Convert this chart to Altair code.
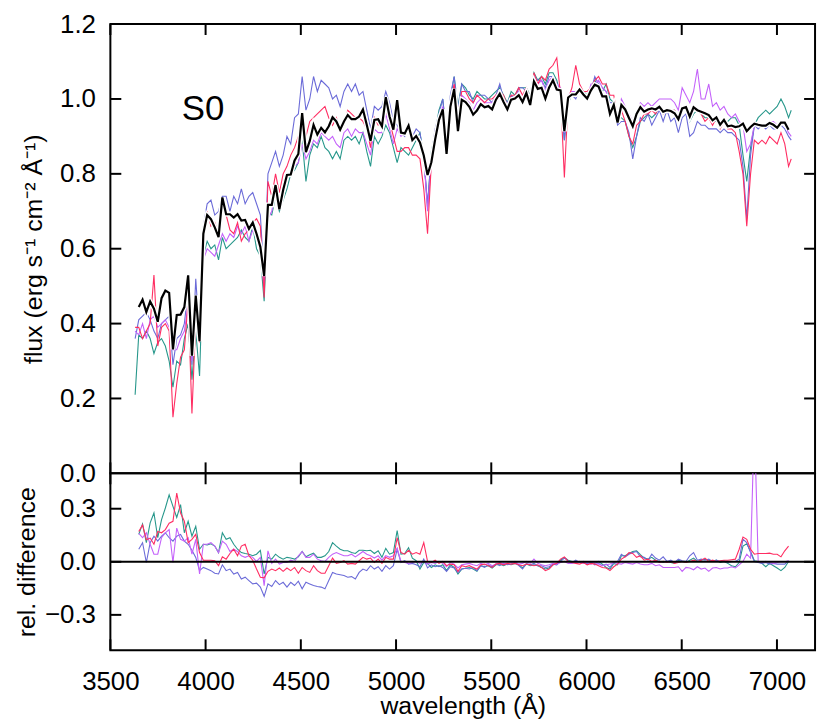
import altair as alt
import numpy as np
import pandas as pd

# ---------------- data ----------------
# wavelength grid of the binned model (black) and of the difference curves
wl = np.round(np.linspace(3649, 7061, 172), 1)
# the four observed spectra start a little before and end a little after it
wl_obs = np.concatenate([[3630.0], wl, [7075.0]])

black = [0.444,0.464,0.431,0.459,0.440,0.405,0.468,0.488,0.482,0.331,
         0.423,0.424,0.444,0.529,0.314,0.475,0.353,0.640,0.690,0.679,
         0.657,0.631,0.737,0.692,0.692,0.683,0.692,0.675,0.677,0.653,
         0.670,0.640,0.605,0.527,0.717,0.717,0.770,0.705,0.757,0.797,
         0.798,0.836,0.853,0.962,0.858,0.888,0.931,0.905,0.923,0.911,
         0.927,0.951,0.940,0.918,0.940,0.957,0.946,0.946,0.953,0.972,
         0.931,0.888,0.944,0.946,0.927,1.005,0.953,0.918,0.997,0.910,
         0.908,0.929,0.890,0.901,0.884,0.849,0.797,0.831,0.892,0.944,
         0.972,0.853,0.979,1.027,0.914,0.998,0.992,0.979,0.958,0.969,
         0.986,0.978,0.981,0.972,0.998,1.014,0.992,0.972,0.998,1.001,
         1.010,0.992,1.016,0.984,1.047,1.027,1.030,1.001,1.031,1.050,
         1.025,1.023,0.914,1.004,1.012,1.012,1.025,1.012,1.001,1.023,
         1.038,1.033,1.007,1.007,0.960,0.984,0.937,0.984,0.972,0.949,
         0.927,0.960,0.978,0.966,0.972,0.975,0.972,0.979,0.966,0.970,
         0.968,0.962,0.946,0.975,0.978,0.953,0.978,0.970,0.966,0.962,
         0.957,0.943,0.951,0.931,0.944,0.927,0.929,0.925,0.927,0.934,
         0.914,0.925,0.934,0.931,0.929,0.929,0.936,0.931,0.923,0.937,
         0.937,0.918]

teal = [0.21,
        0.37,0.36,0.38,0.36,0.32,0.35,0.36,0.34,0.30,0.23,
        0.30,0.29,0.36,0.40,0.25,0.38,0.26,0.58,0.62,0.60,
        0.61,0.57,0.63,0.60,0.61,0.62,0.63,0.65,0.63,0.62,
        0.66,0.60,0.58,0.46,0.70,0.69,0.74,0.70,0.73,0.76,
        0.80,0.81,0.83,0.89,0.78,0.85,0.88,0.87,0.90,0.87,
        0.86,0.84,0.86,0.84,0.89,0.90,0.89,0.90,0.88,0.91,
        0.86,0.82,0.90,0.88,0.90,0.93,0.91,0.87,0.83,0.87,
        0.86,0.85,0.87,0.89,0.91,0.85,0.71,0.86,0.91,0.97,
        1.00,0.90,1.00,1.06,0.98,1.04,1.03,1.01,1.00,1.02,
        1.01,1.00,1.00,1.01,1.02,1.03,1.01,0.99,1.02,1.01,
        1.03,1.03,1.03,1.01,1.07,1.05,1.06,1.04,1.07,1.07,
        1.05,1.01,0.89,0.99,1.01,1.01,1.03,1.02,1.01,1.03,
        1.05,1.03,1.02,1.04,1.00,0.99,0.95,0.95,0.94,0.90,
        0.87,0.90,0.94,0.95,0.96,0.95,0.96,0.98,0.97,0.97,
        0.97,0.97,0.94,0.97,0.98,0.94,0.96,0.97,0.96,0.95,
        0.95,0.94,0.94,0.93,0.94,0.94,0.95,0.95,0.93,0.85,
        0.78,0.87,0.93,0.95,0.96,0.97,0.96,0.97,0.98,1.00,
        0.98,0.95,
        0.97]

red = [0.39,
       0.39,0.36,0.38,0.40,0.53,0.34,0.39,0.40,0.38,0.15,
       0.24,0.31,0.33,0.46,0.16,0.41,0.35,0.63,0.70,0.66,
       0.67,0.64,0.72,0.69,0.65,0.64,0.67,0.62,0.64,0.65,
       0.67,0.68,0.66,0.47,0.78,0.74,0.80,0.75,0.80,0.82,
       0.85,0.87,0.90,0.96,0.90,0.94,0.95,0.96,0.97,0.98,
       0.95,0.93,0.95,0.92,0.93,0.97,0.96,0.95,0.95,0.94,
       0.92,0.87,0.95,0.93,0.94,0.97,0.94,0.90,0.86,0.86,
       0.87,0.87,0.85,0.85,0.84,0.76,0.64,0.83,0.88,0.95,
       0.97,0.87,0.99,1.04,0.96,1.02,1.02,1.00,0.99,1.01,
       1.00,0.99,1.00,1.00,1.01,1.02,1.01,0.98,1.01,1.01,
       1.03,1.01,1.03,1.00,1.07,1.04,1.06,1.05,1.08,1.09,
       1.11,1.01,0.79,1.00,1.03,1.09,1.04,1.02,1.02,1.03,
       1.05,1.06,1.04,1.04,1.01,1.01,0.95,0.97,0.94,0.90,
       0.88,0.93,0.94,0.96,0.96,0.97,0.96,0.98,0.96,0.97,
       0.97,0.97,0.95,0.97,0.98,0.95,0.97,0.97,0.96,0.94,
       0.95,0.93,0.95,0.92,0.94,0.92,0.92,0.91,0.86,0.80,
       0.66,0.80,0.89,0.88,0.89,0.88,0.90,0.89,0.88,0.91,
       0.88,0.82,
       0.84]

slate = [0.36,
         0.41,0.42,0.43,0.41,0.38,0.36,0.40,0.41,0.42,0.29,
         0.36,0.37,0.40,0.49,0.29,0.52,0.37,0.66,0.72,0.73,
         0.69,0.70,0.74,0.74,0.70,0.74,0.72,0.76,0.72,0.74,
         0.75,0.72,0.69,0.52,0.80,0.83,0.86,0.82,0.85,0.90,
         0.88,0.95,0.96,1.06,0.97,1.00,1.06,1.02,1.05,1.04,
         1.03,1.00,1.01,0.98,1.02,1.04,1.02,1.04,1.01,1.02,
         0.97,0.92,0.98,0.97,0.98,1.02,0.99,0.94,0.93,0.91,
         0.90,0.94,0.90,0.92,0.91,0.84,0.72,0.85,0.92,0.96,
         1.00,0.90,1.01,1.06,0.97,1.04,1.02,1.02,0.99,1.01,
         1.01,1.01,1.00,0.99,1.01,1.04,1.00,0.99,1.01,1.00,
         1.03,1.03,1.02,1.00,1.06,1.05,1.05,1.03,1.06,1.06,
         1.04,1.02,0.89,1.00,1.01,1.00,1.03,1.01,1.01,1.02,
         1.06,1.04,1.03,1.02,0.99,0.99,0.93,0.94,0.94,0.91,
         0.84,0.90,0.95,0.94,0.96,0.93,0.95,0.97,0.94,0.97,
         0.94,0.95,0.91,0.95,0.96,0.90,0.91,0.94,0.93,0.93,
         0.92,0.92,0.92,0.91,0.92,0.91,0.91,0.90,0.89,0.82,
         0.68,0.85,0.93,0.92,0.93,0.92,0.93,0.92,0.92,0.93,
         0.92,0.90,
         0.89]

violet = [0.38,
          0.37,0.40,0.36,0.41,0.42,0.39,0.40,0.41,0.39,0.33,
          0.33,0.36,0.38,0.45,0.30,0.44,0.38,0.57,0.60,0.59,
          0.58,0.61,0.64,0.62,0.64,0.63,0.66,0.64,0.66,0.62,
          0.65,0.63,0.59,0.50,0.68,0.70,0.76,0.72,0.75,0.79,
          0.80,0.82,0.83,0.88,0.84,0.86,0.89,0.88,0.91,0.90,
          0.89,0.90,0.88,0.87,0.91,0.92,0.90,0.92,0.91,0.91,
          0.88,0.85,0.92,0.91,0.91,0.96,0.92,0.88,0.92,0.90,
          0.91,0.93,0.89,0.90,0.89,0.85,0.70,0.83,0.90,0.94,
          0.98,0.88,0.98,1.04,0.95,1.01,1.00,0.99,0.97,0.99,
          1.00,0.99,0.99,0.99,1.01,1.02,1.00,0.98,1.00,1.00,
          1.02,1.00,1.01,0.99,1.03,1.04,1.05,1.02,1.05,1.06,
          1.04,1.03,0.91,1.01,1.02,1.02,1.02,1.02,1.00,1.04,
          1.04,1.05,1.03,1.02,0.97,0.99,0.95,1.00,0.98,0.96,
          0.94,0.96,0.99,0.98,0.99,0.98,0.99,1.00,1.00,1.00,
          1.00,0.99,0.97,1.03,1.01,0.99,1.02,1.08,1.00,1.00,
          1.04,0.98,0.99,0.97,0.98,0.96,0.95,0.96,0.94,0.93,
          0.86,0.88,0.93,0.93,0.93,0.93,0.94,0.94,0.93,0.94,
          0.93,0.91,
          0.90]

d_teal = [0.155,0.214,0.108,0.220,0.276,0.136,0.238,0.304,0.378,0.313,
          0.251,0.323,0.164,0.229,0.145,0.201,0.071,0.099,0.095,0.102,
          0.089,0.052,0.164,0.127,0.136,0.099,0.071,0.052,0.047,0.043,
          0.034,0.043,0.065,-0.069,0.025,0.015,0.043,0.025,0.015,0.025,
          0.021,0.015,0.028,0.058,0.028,0.040,0.049,0.025,0.025,0.034,
          0.058,0.108,0.089,0.071,0.062,0.062,0.052,0.047,0.065,0.065,
          0.062,0.065,0.047,0.062,0.025,0.076,0.043,0.052,0.177,0.043,
          0.047,0.080,0.021,0.006,-0.041,-0.004,-0.009,-0.032,-0.017,-0.028,
          -0.017,-0.050,-0.017,-0.032,-0.069,-0.041,-0.037,-0.032,-0.041,-0.054,
          -0.022,-0.028,-0.022,-0.035,-0.017,-0.013,-0.022,-0.013,-0.017,-0.009,
          -0.017,-0.035,-0.013,-0.022,-0.017,-0.022,-0.032,-0.041,-0.035,-0.017,
          -0.013,0.009,0.025,0.009,0.002,0.002,-0.004,-0.004,-0.009,-0.004,
          -0.009,0.002,-0.013,-0.032,-0.041,-0.009,-0.017,0.034,0.034,0.047,
          0.058,0.062,0.040,0.021,0.015,0.025,0.009,0.002,-0.004,0.002,
          -0.004,-0.009,0.009,0.002,-0.004,0.009,0.021,0.002,0.009,0.015,
          0.009,0.002,0.009,-0.004,0.002,-0.009,-0.022,-0.028,-0.004,0.089,
          0.102,0.058,0.006,0.002,-0.009,-0.028,-0.009,-0.022,-0.035,-0.050,
          -0.032,0.002]

d_red = [0.171,0.208,0.125,0.134,0.099,0.171,0.164,0.182,0.218,0.229,
         0.388,0.276,0.229,0.108,0.127,0.155,0.052,0.009,0.009,0.009,
         0.006,-0.022,0.028,0.015,0.047,0.071,0.034,0.089,0.099,0.034,
         0.009,-0.041,-0.087,-0.091,-0.054,-0.041,-0.050,-0.035,-0.054,-0.035,
         -0.050,-0.032,-0.065,-0.032,-0.050,-0.060,-0.022,-0.050,-0.065,-0.065,
         -0.022,0.021,-0.009,-0.004,0.006,-0.013,-0.009,-0.013,0.006,0.025,
         0.015,0.021,-0.004,0.015,-0.009,0.025,0.015,0.015,0.136,0.052,
         0.043,0.065,0.043,0.052,0.043,0.108,0.002,-0.004,0.009,-0.009,
         0.002,-0.022,-0.013,-0.017,-0.054,-0.022,-0.028,-0.022,-0.032,-0.041,
         -0.017,-0.013,-0.022,-0.032,-0.013,-0.009,-0.017,-0.009,-0.013,-0.009,
         -0.017,-0.022,-0.013,-0.017,-0.022,-0.017,-0.032,-0.050,-0.041,-0.017,
         -0.009,0.015,0.028,0.002,-0.004,-0.009,-0.013,-0.004,-0.017,-0.009,
         -0.013,-0.022,-0.032,-0.035,-0.050,-0.028,-0.013,0.015,0.028,0.052,
         0.047,0.025,0.034,0.009,0.015,0.002,0.009,-0.004,0.002,-0.004,
         0.002,-0.009,-0.004,0.002,-0.004,0.002,0.009,0.002,0.009,0.021,
         0.002,0.009,0.002,0.006,0.009,0.009,0.012,0.015,0.071,0.140,
         0.127,0.071,0.043,0.047,0.047,0.047,0.049,0.043,0.043,0.028,
         0.062,0.089]

d_slate = [0.071,0.108,-0.004,0.108,0.145,0.117,0.145,0.164,0.136,0.117,
           0.145,0.155,0.117,0.099,0.065,0.025,-0.050,-0.032,-0.041,-0.050,
           -0.065,-0.069,-0.017,-0.050,-0.041,-0.069,-0.060,-0.097,-0.087,-0.106,
           -0.125,-0.121,-0.143,-0.195,-0.125,-0.140,-0.106,-0.129,-0.116,-0.143,
           -0.116,-0.134,-0.110,-0.153,-0.116,-0.125,-0.134,-0.140,-0.143,-0.153,
           -0.106,-0.060,-0.069,-0.073,-0.078,-0.087,-0.084,-0.097,-0.060,-0.041,
           -0.050,-0.022,-0.041,-0.028,-0.054,-0.022,-0.041,-0.022,0.071,-0.004,
           0.006,-0.013,-0.009,-0.017,-0.028,0.015,-0.035,-0.017,-0.028,-0.022,
           -0.032,-0.054,-0.028,-0.035,-0.060,-0.041,-0.037,-0.041,-0.032,-0.050,
           -0.022,-0.032,-0.017,-0.028,-0.013,-0.022,-0.009,-0.017,-0.013,-0.004,
           -0.022,-0.041,-0.009,-0.017,-0.009,-0.022,-0.022,-0.032,-0.028,-0.013,
           -0.017,0.002,0.021,0.006,-0.004,0.009,-0.004,0.002,-0.013,0.002,
           -0.017,-0.009,-0.022,-0.013,-0.032,-0.004,0.002,0.043,0.028,0.043,
           0.052,0.058,0.028,0.025,0.009,0.043,0.021,0.009,0.028,0.002,
           0.009,-0.004,0.015,0.006,0.002,0.034,0.052,0.009,0.015,0.009,
           0.015,0.002,0.009,0.002,0.006,-0.004,0.002,0.002,0.015,0.127,
           0.108,0.052,0.002,-0.004,-0.009,-0.004,-0.013,-0.009,-0.013,-0.013,
           -0.013,0.006]

d_violet = [0.160,0.136,0.164,0.099,0.043,0.043,0.136,0.164,0.182,-0.004,
            0.190,0.127,0.117,0.136,0.043,0.127,-0.069,0.099,0.099,0.108,
            0.089,0.052,0.117,0.099,0.058,0.071,0.058,0.034,0.025,0.034,
            0.025,0.002,0.025,-0.135,0.062,-0.009,0.015,-0.013,-0.004,-0.004,
            0.009,0.002,0.034,0.058,0.025,0.025,0.043,0.015,0.006,0.002,
            0.025,0.043,0.052,0.043,0.034,0.034,0.043,0.028,0.043,0.058,
            0.043,0.034,0.021,0.034,0.009,0.034,0.025,0.034,0.076,0.002,
            -0.004,-0.009,-0.004,0.002,-0.009,0.002,-0.013,-0.004,-0.009,0.002,
            -0.009,-0.028,-0.004,-0.013,-0.035,-0.017,-0.013,-0.009,-0.017,-0.022,
            -0.009,-0.017,-0.009,-0.022,-0.013,-0.004,-0.013,-0.009,-0.004,0.002,
            -0.013,-0.009,0.002,-0.009,0.015,-0.009,-0.017,-0.022,-0.017,-0.009,
            -0.013,-0.004,0.002,-0.009,-0.009,-0.004,0.002,-0.009,-0.004,-0.013,
            -0.004,-0.013,-0.022,-0.017,-0.013,-0.004,-0.009,-0.013,-0.004,-0.009,
            -0.013,-0.004,-0.013,-0.017,-0.017,-0.009,-0.022,-0.017,-0.032,-0.032,
            -0.032,-0.032,-0.028,-0.054,-0.032,-0.035,-0.045,-0.028,-0.041,-0.035,
            -0.054,-0.035,-0.032,-0.041,-0.035,-0.035,-0.028,-0.035,-0.017,0.002,
            0.043,0.020,0.800,0.002,-0.004,0.002,-0.004,-0.009,-0.004,0.002,
            0.000,0.006]

x_ticks = [3500, 4000, 4500, 5000, 5500, 6000, 6500, 7000]
flux_ticks = [0.0, 0.2, 0.4, 0.6, 0.8, 1.0, 1.2]
diff_ticks = [-0.3, 0.0, 0.3]

# ---------------- styling ----------------
C_TEAL, C_RED, C_SLATE, C_VIOLET = "#27978b", "#ff2d62", "#6b6bd8", "#c462fa"
FONT = "Liberation Sans"
W, H1, H2, TL = 709, 452, 178, 11

df_obs = pd.DataFrame({"wl": wl_obs, "teal": teal, "red": red,
                       "slate": slate, "violet": violet})
df_bin = pd.DataFrame({"wl": wl, "black": black, "d_teal": d_teal, "d_red": d_red,
                       "d_slate": d_slate, "d_violet": d_violet})

xs = alt.Scale(domain=[3500, 7200], nice=False, zero=False)
ys_top = alt.Scale(domain=[0, 1.2], nice=False, zero=False)
ys_bot = alt.Scale(domain=[-0.5, 0.5], nice=False, zero=False)

x_none = alt.Axis(title=None, labels=False, ticks=False, domain=False, grid=False)
x_bot = alt.Axis(title="wavelength (Å)", values=x_ticks, format="d", ticks=False,
                 domain=False, grid=False, labelFlush=False, labelPadding=18,
                 titlePadding=0)
y_top = alt.Axis(title="flux (erg s⁻¹ cm⁻² Å⁻¹)", values=flux_ticks, format=".1f",
                 ticks=False, domain=False, grid=False, labelPadding=15,
                 labelFlush=False,
                 titleX=-69, titleY=H1 / 2, titleBaseline="alphabetic")
y_bot = alt.Axis(title="rel. difference", values=diff_ticks, format=".1f",
                 ticks=False, domain=False, grid=False, labelPadding=15,
                 labelFlush=False,
                 titleX=-76, titleY=H2 / 2, titleBaseline="alphabetic")


def line(df, field, color, width, xaxis, ys, yaxis, clip=False):
    return alt.Chart(df).mark_line(color=color, strokeWidth=width, clip=clip).encode(
        x=alt.X("wl:Q", scale=xs, axis=xaxis),
        y=alt.Y(f"{field}:Q", scale=ys, axis=yaxis),
    )


def frame_ticks(H, ys, yaxis, yvals, xaxis):
    xt = pd.DataFrame({"wl": x_ticks})
    yt = pd.DataFrame({"v": yvals})
    r = dict(color="black", strokeWidth=2)
    top = alt.Chart(xt).mark_rule(**r).encode(
        x=alt.X("wl:Q", scale=xs, axis=xaxis), y=alt.value(0), y2=alt.value(TL))
    bot = alt.Chart(xt).mark_rule(**r).encode(
        x=alt.X("wl:Q", scale=xs, axis=xaxis), y=alt.value(H), y2=alt.value(H - TL))
    left = alt.Chart(yt).mark_rule(**r).encode(
        y=alt.Y("v:Q", scale=ys, axis=yaxis), x=alt.value(0), x2=alt.value(TL))
    right = alt.Chart(yt).mark_rule(**r).encode(
        y=alt.Y("v:Q", scale=ys, axis=yaxis), x=alt.value(W), x2=alt.value(W - TL))
    return [top, bot, left, right]


label = alt.Chart(pd.DataFrame({"wl": [3875.0], "v": [0.945], "t": ["S0"]})).mark_text(
    align="left", baseline="alphabetic", fontSize=35, font=FONT, color="black"
).encode(x=alt.X("wl:Q", scale=xs, axis=x_none),
         y=alt.Y("v:Q", scale=ys_top, axis=y_top), text="t:N")

top = alt.layer(
    line(df_obs, "teal", C_TEAL, 1.1, x_none, ys_top, y_top),
    line(df_obs, "slate", C_SLATE, 1.1, x_none, ys_top, y_top),
    line(df_obs, "violet", C_VIOLET, 1.1, x_none, ys_top, y_top),
    line(df_obs, "red", C_RED, 1.1, x_none, ys_top, y_top),
    line(df_bin, "black", "white", 5, x_none, ys_top, y_top),
    line(df_bin, "black", "black", 2.2, x_none, ys_top, y_top),
    label,
    *frame_ticks(H1, ys_top, y_top, [0.2, 0.4, 0.6, 0.8, 1.0], x_none),
).properties(width=W, height=H1)

zero = alt.Chart(pd.DataFrame({"v": [0.0]})).mark_rule(color="black", strokeWidth=2).encode(
    y=alt.Y("v:Q", scale=ys_bot, axis=y_bot))

bottom = alt.layer(
    line(df_bin, "d_teal", C_TEAL, 1.1, x_bot, ys_bot, y_bot, clip=True),
    line(df_bin, "d_slate", C_SLATE, 1.1, x_bot, ys_bot, y_bot, clip=True),
    line(df_bin, "d_violet", C_VIOLET, 1.1, x_bot, ys_bot, y_bot, clip=True),
    line(df_bin, "d_red", C_RED, 1.1, x_bot, ys_bot, y_bot, clip=True),
    zero,
    *frame_ticks(H2, ys_bot, y_bot, diff_ticks, x_bot),
).properties(width=W, height=H2)

chart = alt.vconcat(top, bottom, spacing=0, bounds="flush").properties(
    padding={"left": 5, "right": 5, "top": 0, "bottom": 0}
).configure_view(stroke="black", strokeWidth=2).configure_axis(
    labelFont=FONT, titleFont=FONT, labelFontSize=26, titleFontSize=25,
    labelColor="black", titleColor="black", titleFontWeight="normal"
)

chart.save("out.html", embed_options={"renderer": "svg", "actions": False})
